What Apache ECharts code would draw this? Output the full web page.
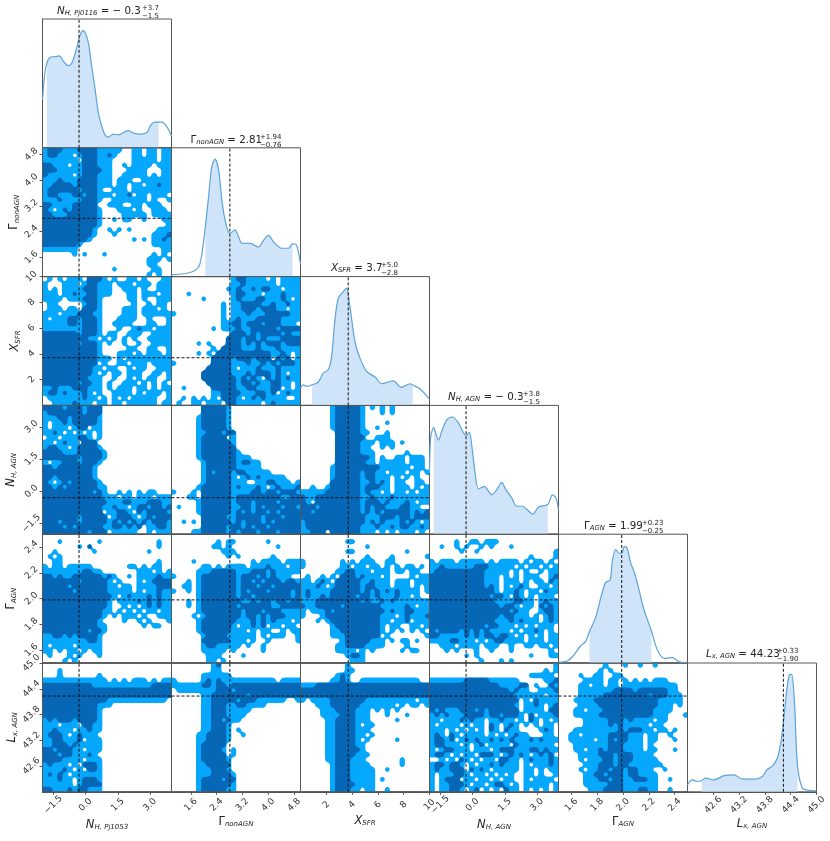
<!DOCTYPE html>
<html>
<head>
<meta charset="utf-8">
<style>html,body{margin:0;padding:0;background:#fff}#main{width:830px;height:841px}</style>
<script src="https://cdn.jsdelivr.net/npm/echarts@6/dist/echarts.min.js"></script>
</head>
<body>
<div id="main"></div>
<script>
// parameter ranges, ticks and quoted medians
var paramMin = [-2, 1, 0, -2, 1.5, 42];
var paramMax = [4, 5, 10, 4, 2.5, 45];
var paramTicks = [
    [-1.5, 0, 1.5, 3],
    [1.6, 2.4, 3.2, 4, 4.8],
    [2, 4, 6, 8, 10],
    [-1.5, 0, 1.5, 3],
    [1.6, 1.8, 2, 2.2, 2.4],
    [42.6, 43.2, 43.8, 44.4, 45]
];
var tickDigits = [1, 1, 0, 1, 1, 1];
var medians = [-0.3, 2.81, 3.7, -0.3, 1.99, 44.23];
var errLow = [1.5, 0.76, 2.8, 1.5, 0.25, 1.90];
var errHigh = [3.7, 1.94, 5.0, 3.8, 0.23, 0.33];
var medianText = ['− 0.3', '2.81', '3.7', '− 0.3', '1.99', '44.23'];
var highText = ['+3.7', '+1.94', '+5.0', '+3.8', '+0.23', '+0.33'];
var lowText = ['−1.5', '−0.76', '−2.8', '−1.5', '−0.25', '−1.90'];

// marginal curves: [x, density]
var kde0 = [[-2,.372],[-1.91,.553],[-1.8,.656],[-1.64,.703],[-1.41,.708],[-1.21,.713],[-1.02,.669],[-.79,.638],[-.64,.656],[-.43,.76],[-.28,.863],[-.12,.91],[-.02,.897],[.14,.811],[.29,.63],[.45,.45],[.6,.269],[.76,.165],[.91,.1],[1.07,.083],[1.3,.106],[1.53,.1],[1.77,.119],[2,.134],[2.23,.114],[2.54,.106],[2.85,.119],[3.04,.178],[3.24,.199],[3.4,.199],[3.55,.199],[3.78,.165],[4,.093]];
var kde1 = [[1,.013],[1.48,.026],[1.73,.047],[1.87,.09],[1.96,.207],[2.05,.388],[2.15,.62],[2.25,.855],[2.35,.912],[2.46,.829],[2.56,.596],[2.66,.44],[2.8,.337],[2.87,.345],[2.97,.363],[3.08,.31],[3.18,.26],[3.44,.258],[3.7,.229],[3.85,.28],[4.01,.32],[4.16,.271],[4.42,.22],[4.63,.22],[4.75,.254],[4.86,.25],[4.92,.207],[5,.098]];
var kde2 = [[0,.134],[.21,.16],[.47,.147],[.9,.16],[1.37,.18],[1.76,.25],[2.15,.276],[2.41,.38],[2.67,.664],[2.93,.832],[3.32,.884],[3.57,.91],[3.83,.767],[4.22,.496],[4.61,.367],[5.13,.264],[5.78,.22],[6.3,.168],[7.2,.191],[7.8,.14],[8.5,.168],[8.7,.158],[9.27,.127],[10,.049]];
var kde3 = [[-2,.475],[-1.94,.76],[-1.8,.83],[-1.74,.8],[-1.58,.73],[-1.43,.8],[-1.19,.889],[-.93,.91],[-.65,.863],[-.42,.786],[-.29,.767],[-.15,.79],[-.03,.682],[.12,.475],[.28,.351],[.54,.372],[.9,.307],[1.13,.346],[1.36,.403],[1.55,.346],[1.83,.28],[2.06,.217],[2.33,.217],[2.57,.186],[2.81,.155],[3.07,.212],[3.5,.23],[3.72,.305],[3.88,.282],[4,.186]];
var kde4 = [[1.5,.005],[1.57,.018],[1.62,.062],[1.67,.132],[1.71,.166],[1.74,.244],[1.79,.36],[1.83,.516],[1.865,.624],[1.9,.645],[1.917,.788],[1.943,.883],[1.97,.852],[1.99,.852],[2.01,.904],[2.03,.899],[2.06,.775],[2.09,.697],[2.124,.567],[2.163,.412],[2.22,.25],[2.267,.1],[2.32,.036],[2.38,.041],[2.435,.01],[2.5,0]];
var kde5 = [[42,.055],[42.11,.093],[42.23,.08],[42.33,.088],[42.42,.106],[42.61,.093],[42.85,.125],[43.08,.132],[43.27,.1],[43.55,.098],[43.74,.119],[43.86,.176],[43.97,.197],[44.09,.262],[44.17,.38],[44.23,.535],[44.31,.795],[44.37,.909],[44.42,.912],[44.48,.743],[44.56,.197],[44.67,.029],[44.79,.013],[45,.008]];
var kdes = [kde0, kde1, kde2, kde3, kde4, kde5];

var c10 = ["+###+++####+++++..++.++.++","+##+++.+###++#+...++.++.++","+++++++.###+++....+++++.++","##+++.++###+++..+.++++.+++","###+++++####++...++++...++","#+++++.+###+++..+++++.+.++","+++#+++####+++.+++..++++++","++####+####+++.++.++.++#++","+######+###+..+++.++++++++","+##+++##+##+++.++#.++.+++.","+++#++++###+..+++++++.+..+","##++++#####..+++..++.+++..","#+.+#+#####+...+++.+..+++.","##+++######+....+++++.++++","###########+..+.++..+...++","###########+.............+","##########+..+.+.+.....+++","##########+...+.......+++#","#########+........+.+.++#+","#######+..............++++","+++++++.................++","......+.+...+.........+.+.",".....................+++.+",".....................++...","..............+.......++..",".....................+.+.."];
var c20 = [".+.+.+++.###+.+..++.+...++","+...+++.+##+++.+++.+++.+++","+.+.++++###+++..+++.+..+++","+++.++#++##+++...++.+++.++","++++.+++###+.....++.+..+++",".++.....+##+......+..+.++.",".+++.++.###+....+++.+++.+.","+++.+++###++....+++.++++++","+.+++##+###+...++++..+...+","+++++##+###+..++++...++..+","++++++++###+...+..+#++.+++","#######+###+.++..+++..++++","#########++.+.+.+.+..+++++","#######+###+.+..+..+..++++","###########+.....++..++..+","###########+...+++.+.+++.+","###########+++.+.+++++++++","###########.+..++.+++.++++","##########++.++..+.++..+++","##########+.+.++.+++..++.+","#########+++..+..+.+.++..+","#######+##++.+..+++.+.+.+.","++#+++###+++.+.+++.++.+.++","+##+#+++#+.+..++++.+.+++.+",".+++++++#++.+.+.+.+++++..+","..++++#+++.++.++.++++++.++"];
var c21 = ["............+##++++.+.++++","............++#++++++.++++","...........++#++#+##++.+++","...+........+##+++.+++#+++","......+.....+#+++##+++#+.+","..........+.++####++#++#++","..........+.++###+###++.++","+.........+.+++#+++#####++","..........+.+#+++#####++++","..........++##+###+###+++.","........+.+++#++#####+####","............###+#+####+#++","...........###+##+#+++####",".....+.+...###+#+#+###+###","........+.####+++#+++#++++",".....+.+.###########++#+.+","........####+###+###.#+#.+","+.......####+++#++#+#+###+",".......#####+.+++#+++#++++","......######+++#+###+#+.++","......#######+#+#+.#+#+#++",".......######+##+#++##++.+","..+.....#####++##+++##.+.+","........++####+++##+#.+#++","..+.+.+.+.###+.+#+#++++..+",".+..++.+++.##+++++.+#+++++"];
var c30 = ["####+###+###..............","+#######+###..............","+++##+#####+..............","+.++#+#####+..............","+.+++.+##.++..............","++#+.+.+.+.+..............",".++.+++##+.+..............","++.+#++.###...............","+##++.+####+..............","####+++#####+.............","#######+####+.............","+.++###+###+..............","##+#######+...............","##########+...............","##+#######+...............","#+.+#+#####+..............","##+#+######++.............","##########+#+..+.+.+.++...","############+++.++.+++.+++","#############+++##+++###++","############++#++.+##+##+#","############.++##+.#+####+","#######+#####.+###+.+#+###","###+###+#####+#+#+#+#+###+","####+#+#####++##+#+#.++##+","#########+###.+++++..+.+++"];
var c31 = ["......#####+..............","......#####+..............",".....+#####+..............",".....+#####+..............",".....+#####+..............",".....++###+##.............",".....+#####.+.............",".....+######+.............",".....+#######.............",".....+#######+............",".....+#######+++..........","......+######+##++........","......+######+++++........","......+#+###+##+++++......","......+#####+.+#+#+++++...","......+#####+++..++##+++.+",".....+######+#+++#+.+#+++#","+...+.######++++##+##+###+","...++.######+#########++##",".....+######+###+####+####",".+...+######++##+#+###+##+",".....+######+#+#+##+#+####","......#####++#####+###+###","..+.+.######+#+###+#+#####","......#####+##+#+##+######","....++#####+#+###+###+####"];
var c32 = ["......+#####+.+.+.+.......","......+#####+...+.+.......","......+#####+.............","......+#####+....+........","......+#####+..+..........",".......#####++...+........",".......######..+++........",".......#####+++.+++.+.....",".......#####++..+.+.......",".......#####+++......+....",".......#######+.+..++.+++.",".......######++.+++++.+++.","......+#########++++++.++.","......+#####+##++.+++.++.+","......+#####+##+++.+.+.+..","......######++#+#+.++..++.","..+..+######+###++.+++.+.+","+++++#######+#++.+.++.+.++","#++#########++#+++#+++++++","#+.#########+###+#+++#+.++","###+########+#+##+++##++..","##+#########+#+#+#####+#+#","#############+++###+##+###","+############+#+#+++#+#+.+","+###########+++#++#+##++#+","++###.######+++.+.+.+++.+."];
var c40 = ["..........................","...+.......+...........+..",".......+.#.............+..","..+.......+..........+....",".+.+......................","..++...................+..","+.++.+++++.......++.+.++..","++++++++##++.......+++.+.+","##+#++######+#+..+.++++#++","#######+#####+.+...+.+####","#####+#######++.++.++++###","######+######+++++.+.++#++","##############+.+#+++#+#++","#############+.++++#+#+#++","#############+..+.+.+#+#++","############++.+.+.+.++.++","############+.+.+++.+..+++","###########+....+..+.+...+","###########++.......+.++..","#########+##+.............","++##+#+####+..............","+++++++++##+..............","+.++++.+++++..............","++.+.++.+.++..............",".+...+.+...+..............","....+.+..................."];
var c41 = ["..........................",".........+.++......+......","........++.+.........+....","..........+++.............","...........+.+......+.....","....+...........+.++++.+++","......++.+.++++.+++#+++.++",".....+++#####+++###+#+++++","+....+#######+###+#+#+++..","...+.+#######+##+#+###+##+","..++.+#######+###+##+#####","+..+.+#######+#+###+####+#",".....+#######+##+#######+#","...+.+########++#+##+##+##","...+.+#######+######++####",".....+########+###+###++++","....+.+#######+##+#+###+++",".....+#######+++#+#+#+++.+",".....+######+.++#+#.++.++.",".....+######+++.+.++..+.++","......+####++++++.+.+++..+","......######+++.+..+.....+","......+##+++++.+..+.......","......+++++.+.....+.......",".......+++....+...........",".......++.+..............."];
var c42 = ["..........................",".........++...............",".............+............",".........++..........+....",".............+....+......+","+.......+.+.+++..++.......","+.......++.++.++.+.+.++.+.",".......++##+++.+++.++.++..",".+..+.+.###+#+++.+....+.++","++.+#+.#####++#+++.+++.+++","+++#+.+#####+##+++.+++.+.+","+#++++######+#+#+#+#++++.+","+#++#+#####+##+#+++#++.+..","+++#########+#++#+#+++++++","#++#####+#######+++++#+.++","+.+++#+##########+#++##+++","+...+###########+++.+#+++#","...+.+##########++.++#.+++","......+#########+.++..++.+","......++########+.+.+.+.+.","......+++#######.+.......+","........+#####+++.+.++.+..",".......++####++++....+....",".......++++.+.+.....+.++..",".........+##+.............","..........+++............."];
var c43 = ["..........................",".....+..++.+++............","..+..+.+..+.+...+.........","......+..+...............+","....................+....+","+.+++.+++++.+.++++.+.++.+.","++#++++++###+++++.+.++.+.+","+##########+++++.+.+..+.++","###########+++.+.+.+++..+#","###########+++.+++.+.++.#+","###########+#+.+.+#+..++.+","#############+.++#+.++.#++","############+##+.#+.+.+++.","#############++++##++.+#++","##############+##+.++.#+#+","################+#++..+##+","##############+##+++.+.+#+","#############+++#+#+++.+#+","###########+##+++.+.+.+++.","#+####+#+#+#++++.+.++#+.+.","##+++++#+#+##+##+.+.+.+.++","++++##+++.+.+##++++.+++.++","..+++.++++.+++..+..++.++.+","...+.+...+..+...+.......+.",".......+.+..........+...++","..........+...+.+........."];
var c50 = ["..........................","...+......................","...+.......+..............","+++++++++++++.+.+.+++.+.++","##########++++++++++++####","##########################","##########################","#############++++++++++++.","###########+++............","###########+..............","###########+..............","+#+###+####+..............","+++.+++.##++..............","++#+++.++#++..............","+###+.+#+++...............","++##+++#.+++..............","++###+#+++++..............","##+###++.+++..............","###+##+++#+...............","####++++.+++..............","+#+++.+.###+..............","++++#+.+.##+..............","+#+#+.++++++..............","+++#++.+###+..............","++++++.+####..............","##+++#+##+++.............."];
var c51 = ["........+#................","........++................","......++++++..............","+.....+#+#+++++++++++.++++","++++++##+##+##############",".++++++++###+#############","......++#######+##########","......++#####+###++++++..+","......++###++##++++.......","......++###+++++..........","......++###++++...........","......++##+#++............","......++###+..............","......++###+.+............",".....++####+..+...........",".....++####+..............",".....+#####...............",".....+####+.+.............",".....+#####.+.............",".....+#####+..............",".....++#####..............",".....+++###+..............",".....+++####+.............",".....+####+##.............",".....+######+.............",".....+#####++............."];
var c52 = [".........+................",".........++...............",".......+#+................","......++#+..++++++++++++..","+++#######################","##########################","##########################","+.++++#######++++++++++.++","...+++######+++++++.+.++.+","....+++####+++.+.+.+......","....++++###+++...+...+....",".....++####+++.....+......",".....++####+.++...........",".....++####+++............",".....++####++.+...........",".....++####+.+.....+......",".....++####++.............",".....++#####+.............",".....++####+++............",".....++###+++.......+.....","......+###++++......+.....","......+###+++++..+........","......+###+++++...........","......+###+++++.+.........","......+####++++...........","......+###++.++..+........"];
var c53 = [".........................+",".......................+.+","....................+++++.","+++++++#####++++++.....++#","##############++++##.+..#+","################+#++..+++#","#################++++++.++","##################.+.#++++","#################+.++#+.+#","#+#+++###+#+######.++++.##","+#+#+++####+##+###+.#.+++#","++.+++#+#++.++#++.+.#+.+.+","+.++++.+.++.#+.+#+.+.+.++.","+++.+.+.+.+.#+.#++....+#+.","+#+.#+.++++.+.+.+#++...++.","+##+#.+#+#++#+#+#+++#+#+++","+##+++.+.+#.++++.#+++++++.","+.+##+++.+++.+###+++##+#++","+##+.+.++.###+.+#+#+.+#+#.","..+.+.#+.+.++.##++.+#+++#+","+##+##+.+.++#+#+++.+.+++#+","+#++###.#+#+.+++++.++.+.++","+.+++##+.++.+.+.+..++.+..+","+.+###.++.++.+.++..+.++++.","+.++###+.++.+##+.+.+++++.+","+.++##+.+#.+.+.#++.+.+.+.+"];
var c54 = [".........+...+..+..+......","........+.+...............","....+..++..++.............",".....++++.++.+.+.+.+++....","....++.++.++.+++++++++++..","....+++++++####+######++..","....+++++#########+###+++.","...++++#############+++++.","....++++############+++.+.","...++.+++##########++++...","...+++++###########+++...+",".....+++++###+#++++.++....",".....+++++#+#+++++.++.....","...+++++++++#+###++.++.+..","..++.+++++####+++.++..+...","..+++++.++#+##+++.++...+..","...+++++++###++++.+.......","...++.++#+###++++.++...+..","....++++###+###++++.......","....+.+++##+###+++++......",".....+++###+##+++++++.....","....+.++##+##+##+++..+....",".....++##+###+##++++......",".....+++##+##++###++..+...",".....+++++###+++++++......","......+++####+++##++..+..."];
var contours = {
    '1,0': c10, '2,0': c20, '2,1': c21, '3,0': c30, '3,1': c31, '3,2': c32,
    '4,0': c40, '4,1': c41, '4,2': c42, '4,3': c43,
    '5,0': c50, '5,1': c51, '5,2': c52, '5,3': c53, '5,4': c54
};

var LIGHT = '#05a8fc', DARK = '#0567b5', CURVE = '#5ba3d9', SHADE = '#cfe4f8';
var FONT = 'DejaVu Sans';
var PANEL_X = 42.5, PANEL_Y = 19, STEP_X = 129, STEP_Y = 128.8;
var CELLS = 26, SUB = 3, SIGMA = 0.44;

var rich = {
    i: { fontFamily: FONT, fontSize: 11.5, fontStyle: 'italic', color: '#222' },
    u: { fontFamily: FONT, fontSize: 11.5, color: '#222' },
    s: { fontFamily: FONT, fontSize: 7, fontStyle: 'italic', color: '#222', verticalAlign: 'bottom', padding: [5, 0, 0, 0] }
};
var titleRich = {
    i: { fontFamily: FONT, fontSize: 10.3, fontStyle: 'italic', color: '#222' },
    u: { fontFamily: FONT, fontSize: 10.3, color: '#222' },
    s: { fontFamily: FONT, fontSize: 6.8, fontStyle: 'italic', color: '#222', verticalAlign: 'bottom', padding: [5, 0, 0, 0] }
};
var axisNames = [
    '{i|N}{s|H, Pj1053}', '{u|Γ}{s|nonAGN}', '{i|X}{s|SFR}',
    '{i|N}{s|H, AGN}', '{u|Γ}{s|AGN}', '{i|L}{s|x, AGN}'
];
var titleNames = [
    '{i|N}{s|H, Pj0116}', '{u|Γ}{s|nonAGN}', '{i|X}{s|SFR}',
    '{i|N}{s|H, AGN}', '{u|Γ}{s|AGN}', '{i|L}{s|x, AGN}'
];
// title anchors: left edge of the text, left edge of the +/- stack, vertical centre
var titleLeft = [57, 190.5, 331, 448, 584, 706];
var stackLeft = [142, 260, 381, 523, 642, 777];
var titleMid = [11, 140, 268, 397, 526, 654];
var xNameGap = [27, 21, 22, 27, 21, 26];
var yNameGap = [0, 20, 19, 25, 25, 24];

// closed cells for every path are one filled shape, so no seams show between them
echarts.graphic.registerShape('contourFill', echarts.graphic.extendShape({
    shape: { polys: [] },
    buildPath: function (ctx, shape) {
        shape.polys.forEach(function (p) {
            ctx.moveTo(p[0], p[1]);
            for (var k = 2; k < p.length; k += 2) ctx.lineTo(p[k], p[k + 1]);
            ctx.closePath();
        });
    }
}));

// smooth the level table and trace it, giving polygons in panel fractions
function tracePolys(rows, chars, threshold) {
    var n = CELLS * SUB, field = [], u, v, a, b;
    for (v = 0; v <= n; v++) {
        field.push([]);
        for (u = 0; u <= n; u++) {
            var cu = u / SUB, cv = v / SUB, sum = 0, wsum = 0;
            var i0 = Math.floor(cu), j0 = Math.floor(cv);
            for (b = j0 - 2; b <= j0 + 2; b++) {
                for (a = i0 - 2; a <= i0 + 2; a++) {
                    var du = a + 0.5 - cu, dv = b + 0.5 - cv;
                    var w = Math.exp(-(du * du + dv * dv) / (2 * SIGMA * SIGMA));
                    var ra = Math.max(0, Math.min(CELLS - 1, a)), rb = Math.max(0, Math.min(CELLS - 1, b));
                    var ch = rows[rb].charAt(ra);
                    if (ch && chars.indexOf(ch) >= 0) sum += w;
                    wsum += w;
                }
            }
            field[v].push(sum / wsum);
        }
    }
    var polys = [];
    var cu4 = [0, 1, 1, 0], cv4 = [0, 0, 1, 1];
    for (v = 0; v < n; v++) {
        for (u = 0; u < n; u++) {
            var pts = [];
            for (var k = 0; k < 4; k++) {
                var m = (k + 1) % 4;
                var f0 = field[v + cv4[k]][u + cu4[k]], f1 = field[v + cv4[m]][u + cu4[m]];
                if (f0 >= threshold) pts.push((u + cu4[k]) / n, (v + cv4[k]) / n);
                if ((f0 >= threshold) !== (f1 >= threshold)) {
                    var t = (threshold - f0) / (f1 - f0);
                    pts.push((u + cu4[k] + t * (cu4[m] - cu4[k])) / n, (v + cv4[k] + t * (cv4[m] - cv4[k])) / n);
                }
            }
            if (pts.length >= 6) polys.push(pts);
        }
    }
    return polys;
}

function tickLabel(i) {
    return function (v) {
        return v.toFixed(tickDigits[i]).replace('-', '−');
    };
}

var grids = [], xAxes = [], yAxes = [], series = [], titles = [];

function addPanel(row, col) {
    var g = grids.length;
    var isDiag = row === col;
    var bottom = row === 5, left = col === 0;
    grids.push({
        left: PANEL_X + col * STEP_X,
        top: PANEL_Y + row * STEP_Y,
        width: STEP_X,
        height: STEP_Y,
        show: true,
        borderColor: '#555',
        borderWidth: 1
    });
    xAxes.push({
        gridIndex: g,
        type: 'value',
        min: paramMin[col],
        max: paramMax[col],
        splitLine: { show: false },
        axisLine: { show: bottom, onZero: false, lineStyle: { color: '#555' } },
        axisTick: { show: bottom, length: 3, lineStyle: { color: '#555' }, customValues: paramTicks[col] },
        axisLabel: {
            show: bottom,
            customValues: paramTicks[col],
            rotate: 45,
            align: 'center',
            verticalAlign: 'middle',
            margin: 13,
            fontSize: 9,
            fontFamily: FONT,
            color: '#333',
            formatter: tickLabel(col)
        },
        name: bottom ? axisNames[col] : '',
        nameLocation: 'middle',
        nameGap: xNameGap[col],
        nameTextStyle: { rich: rich }
    });
    yAxes.push({
        gridIndex: g,
        type: 'value',
        min: isDiag ? 0 : paramMin[row],
        max: isDiag ? 1 : paramMax[row],
        splitLine: { show: false },
        axisLine: { show: left, onZero: false, lineStyle: { color: '#555' } },
        axisTick: { show: left && !isDiag, length: 3, lineStyle: { color: '#555' }, customValues: paramTicks[row] },
        axisLabel: {
            show: left && !isDiag,
            customValues: paramTicks[row],
            rotate: 45,
            align: 'center',
            verticalAlign: 'middle',
            margin: 11,
            fontSize: 9,
            fontFamily: FONT,
            color: '#333',
            formatter: tickLabel(row)
        },
        name: left && !isDiag ? axisNames[row] : '',
        nameLocation: 'middle',
        nameRotate: 90,
        nameGap: yNameGap[row],
        nameTextStyle: { rich: rich }
    });

    if (isDiag) {
        var lo = medians[col] - errLow[col], hi = medians[col] + errHigh[col];
        series.push({
            type: 'line', xAxisIndex: g, yAxisIndex: g, silent: true, showSymbol: false,
            smooth: 0.3, z: 2, lineStyle: { width: 0 },
            areaStyle: { color: SHADE, opacity: 1 },
            data: kdes[col].filter(function (p) { return p[0] >= lo - 0.001 && p[0] <= hi + 0.001; })
        });
        series.push({
            type: 'line', xAxisIndex: g, yAxisIndex: g, silent: true, showSymbol: false,
            smooth: 0.3, z: 3, lineStyle: { color: CURVE, width: 1.2 },
            data: kdes[col]
        });
    } else {
        var rows = contours[row + ',' + col];
        var outer = tracePolys(rows, '+#', 0.44), inner = tracePolys(rows, '#', 0.46);
        series.push({
            type: 'custom', xAxisIndex: g, yAxisIndex: g, silent: true, clip: false, z: 2,
            data: [[paramMin[col], paramMin[row]]],
            renderItem: function (params, api) {
                function toPixels(polys) {
                    return polys.map(function (p) {
                        var out = [];
                        for (var k = 0; k < p.length; k += 2) {
                            var pt = api.coord([
                                paramMin[col] + p[k] * (paramMax[col] - paramMin[col]),
                                paramMax[row] - p[k + 1] * (paramMax[row] - paramMin[row])
                            ]);
                            out.push(pt[0], pt[1]);
                        }
                        return out;
                    });
                }
                var tl = api.coord([paramMin[col], paramMax[row]]);
                var br = api.coord([paramMax[col], paramMin[row]]);
                return {
                    type: 'group',
                    children: [
                        { type: 'contourFill', shape: { polys: toPixels(outer) }, style: { fill: LIGHT } },
                        { type: 'contourFill', shape: { polys: toPixels(inner) }, style: { fill: DARK } },
                        {
                            type: 'rect',
                            shape: { x: tl[0], y: tl[1], width: br[0] - tl[0], height: br[1] - tl[1] },
                            style: { fill: 'none', stroke: '#555', lineWidth: 1 }
                        }
                    ]
                };
            }
        });
        series.push({
            type: 'line', xAxisIndex: g, yAxisIndex: g, silent: true, showSymbol: false, z: 4,
            lineStyle: { color: '#111', width: 1, type: [3, 2] },
            data: [[paramMin[col], medians[row]], [paramMax[col], medians[row]]]
        });
    }
    // median line, every panel
    series.push({
        type: 'line', xAxisIndex: g, yAxisIndex: g, silent: true, showSymbol: false, z: 4,
        lineStyle: { color: '#111', width: 1, type: [3, 2] },
        data: [[medians[col], isDiag ? 0 : paramMin[row]], [medians[col], isDiag ? 1 : paramMax[row]]]
    });
}

for (var r = 0; r < 6; r++) {
    for (var c = 0; c <= r; c++) addPanel(r, c);
}

for (var i = 0; i < 6; i++) {
    titles.push({
        text: titleNames[i] + '{u| = ' + medianText[i] + '}',
        left: titleLeft[i],
        top: titleMid[i] - 6,
        padding: 0,
        textStyle: { rich: titleRich, fontSize: 10.3, fontWeight: 'normal' }
    });
    titles.push({
        text: highText[i] + '\n' + lowText[i],
        left: stackLeft[i],
        top: titleMid[i] - 7,
        padding: 0,
        textStyle: { fontFamily: FONT, fontSize: 7, lineHeight: 8, fontWeight: 'normal', color: '#222' }
    });
}

var myChart = echarts.init(document.getElementById('main'));
myChart.setOption({
    animation: false,
    backgroundColor: '#fff',
    title: titles,
    grid: grids,
    xAxis: xAxes,
    yAxis: yAxes,
    series: series
});
</script>
</body>
</html>
